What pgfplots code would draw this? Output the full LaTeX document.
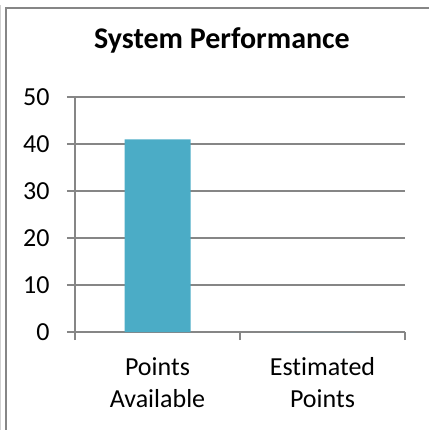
\documentclass[border=0pt]{standalone}
\usepackage{fontspec}
\setmainfont{Carlito}[Ligatures=NoCommon]
\usepackage{pgfplots}
\pgfplotsset{compat=1.18}
\definecolor{barc}{HTML}{4BACC6}
\definecolor{gridc}{HTML}{868686}
\begin{document}
\begin{tikzpicture}[x=1bp,y=1bp]
\path[use as bounding box] (0,0) rectangle (429,-430);
\draw[gray!35, line width=1bp] (0.7,-5) -- (0.7,-430);
\draw[gridc, line width=2bp] (6,-430) -- (6,-7.5) -- (429,-7.5);
\node[font=\fontsize{30bp}{36bp}\selectfont\bfseries, anchor=base, inner sep=0pt] at (222,-48) {System Performance};
\begin{axis}[
  at={(75bp,-332bp)}, anchor=south west,
  width=330bp, height=235bp, scale only axis,
  xmin=-0.5, xmax=1.5, ymin=0, ymax=50,
  ytick={0,10,...,50},
  xtick={-0.5,0.5,1.5}, xticklabels={,,},
  extra x ticks={0,1},
  extra x tick labels={{Points\\Available},{Estimated\\Points}},
  extra x tick style={major tick length=0pt, xticklabel style={yshift=-22bp}},
  axis lines*=left,
  axis line style={gridc, line width=1.5bp},
  ymajorgrids,
  major grid style={gridc, line width=1.5bp},
  tick align=outside,
  major tick length=8bp,
  tick style={gridc, line width=1.5bp},
  ticklabel style={font=\fontsize{26bp}{31.7bp}\selectfont},
  xticklabel style={align=center},
  yticklabel style={xshift=-14bp},
  /pgf/number format/assume math mode=true,
  clip=false,
]
\addplot[ybar, bar width=66bp, fill=barc, draw=none] coordinates {(0,41) (1,0)};
\end{axis}
\end{tikzpicture}
\end{document}
